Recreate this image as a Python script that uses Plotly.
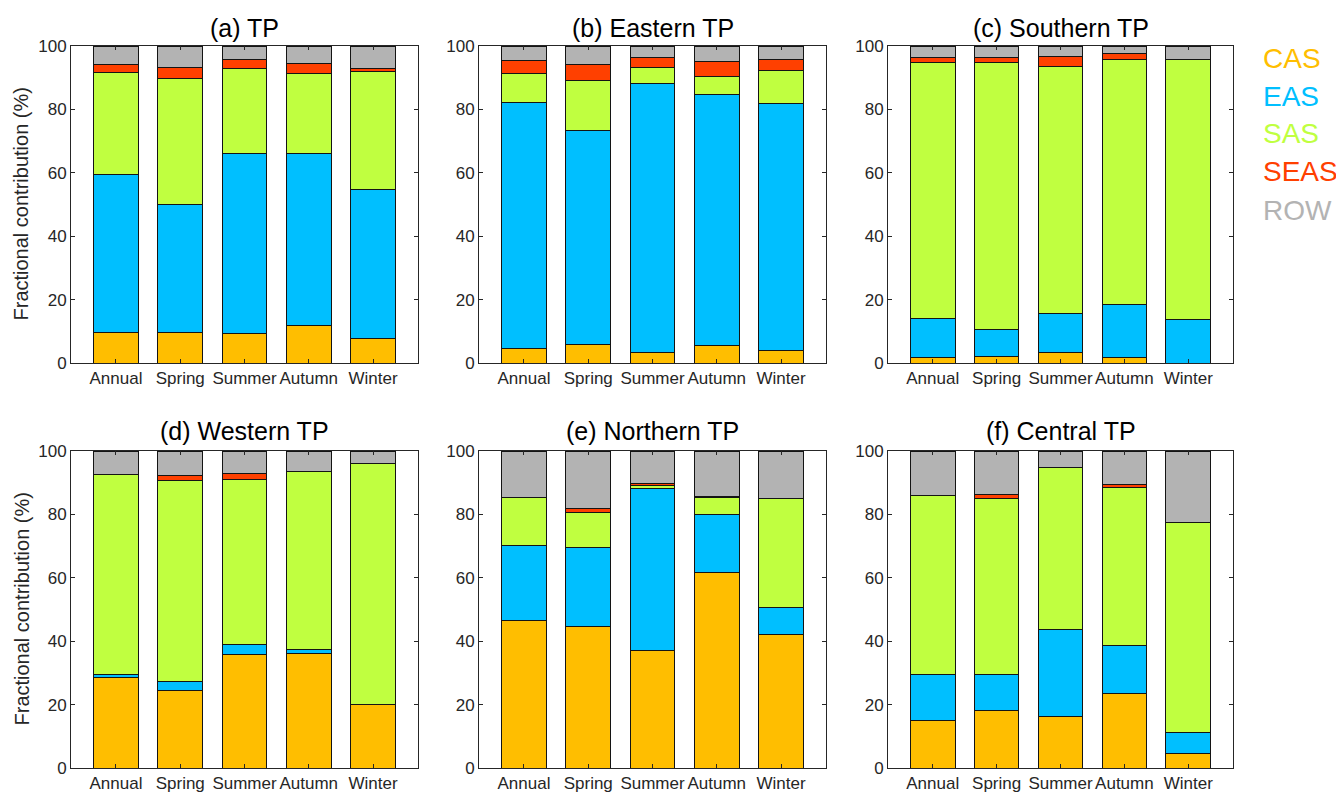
import plotly.graph_objects as go

# ---------------- data ----------------
seasons = ["Annual", "Spring", "Summer", "Autumn", "Winter"]
titles = ["(a) TP", "(b) Eastern TP", "(c) Southern TP",
          "(d) Western TP", "(e) Northern TP", "(f) Central TP"]
sources = ["CAS", "EAS", "SAS", "SEAS", "ROW"]

# rows: TP, Eastern, Southern, Western, Northern, Central ; cols: seasons
CAS = [
    [9.6, 9.6, 9.3, 11.7, 7.7],
    [4.7, 5.9, 3.3, 5.6, 3.9],
    [1.6, 2.1, 3.3, 1.6, 0.0],
    [28.4, 24.6, 35.9, 36.1, 20.0],
    [46.6, 44.5, 37.1, 61.6, 42.2],
    [15.0, 18.2, 16.2, 23.4, 4.6],
]
EAS = [
    [49.9, 40.4, 56.8, 54.4, 47.0],
    [77.5, 67.5, 84.8, 79.1, 78.0],
    [12.4, 8.4, 12.2, 17.0, 13.7],
    [1.0, 2.6, 3.2, 1.2, 0.0],
    [23.6, 25.0, 51.1, 18.3, 8.4],
    [14.4, 11.2, 27.4, 15.1, 6.7],
]
SAS = [
    [32.0, 39.8, 26.8, 25.2, 37.3],
    [9.1, 15.7, 5.2, 5.7, 10.5],
    [80.7, 84.2, 78.1, 77.0, 81.9],
    [63.1, 63.5, 52.0, 56.2, 76.0],
    [15.1, 11.2, 1.0, 5.3, 34.5],
    [56.5, 55.6, 51.2, 49.9, 66.2],
]
SEAS = [
    [2.7, 3.5, 2.7, 3.2, 0.9],
    [4.1, 5.1, 3.1, 4.7, 3.2],
    [1.7, 1.7, 3.1, 2.1, 0.0],
    [0.0, 1.6, 1.7, 0.0, 0.0],
    [0.0, 1.1, 0.4, 0.4, 0.0],
    [0.2, 1.4, 0.0, 0.9, 0.0],
]
ROW = [
    [5.8, 6.7, 4.4, 5.5, 7.1],
    [4.6, 5.8, 3.6, 4.9, 4.4],
    [3.6, 3.6, 3.3, 2.3, 4.4],
    [7.5, 7.7, 7.2, 6.5, 4.0],
    [14.7, 18.2, 10.4, 14.4, 14.9],
    [13.9, 13.6, 5.2, 10.7, 22.5],
]
values = {"CAS": CAS, "EAS": EAS, "SAS": SAS, "SEAS": SEAS, "ROW": ROW}
colors = {"CAS": "rgb(255,190,0)", "EAS": "rgb(0,191,255)", "SAS": "rgb(192,255,64)",
          "SEAS": "rgb(255,64,0)", "ROW": "rgb(179,179,179)"}

# ---------------- layout geometry (screen pixels) ----------------
OFF = 8                      # default page body margin
W, H = 1344 - OFF, 792 - OFF  # figure size so the page fits the window
col_px = [(71, 418), (479, 826), (888, 1233)]
row_px = [(46, 363), (451, 768)]
title_y = [28, 431]


def px(xs):
    return (xs - OFF) / W


def py(ys):
    return (H - (ys - OFF)) / H


fig = go.Figure()
axc = "#262626"
layout = dict(
    template="none",
    width=W, height=H, margin=dict(l=0, r=0, t=0, b=0, pad=0, autoexpand=False),
    paper_bgcolor="white", plot_bgcolor="white",
    barmode="stack", bargap=0.3, showlegend=False,
    font=dict(family="Liberation Sans, Arial, sans-serif", color=axc),
)
annotations = []
for i in range(6):
    r, c = divmod(i, 3)
    n = i + 1
    xa = "x" if n == 1 else f"x{n}"
    ya = "y" if n == 1 else f"y{n}"
    for s in sources:
        fig.add_trace(go.Bar(
            x=seasons, y=values[s][i], name=s, xaxis=xa, yaxis=ya,
            marker=dict(color=colors[s], line=dict(color="rgb(20,20,20)", width=1)),
            width=0.7,
        ))
    x0, x1 = col_px[c]
    y0, y1 = row_px[r]
    common = dict(showline=True, linecolor=axc, linewidth=1, mirror="ticks",
                  ticks="inside", ticklen=4, tickcolor=axc, showgrid=False,
                  zeroline=False, automargin=False,
                  tickfont=dict(size=17, color=axc))
    layout["xaxis" if n == 1 else f"xaxis{n}"] = dict(
        domain=[px(x0), px(x1)], anchor=ya, type="category",
        range=[-0.7, 4.7], **common)
    layout["yaxis" if n == 1 else f"yaxis{n}"] = dict(
        domain=[py(y1), py(y0)], anchor=xa,
        range=[0, 100], dtick=20, **common)
    annotations.append(dict(
        text=titles[i], xref="paper", yref="paper",
        x=px((x0 + x1) / 2), y=py(title_y[r]),
        xanchor="center", yanchor="middle", showarrow=False,
        font=dict(size=25, color="black")))

for r in range(2):
    y0, y1 = row_px[r]
    annotations.append(dict(
        text="Fractional contribution (%)", xref="paper", yref="paper",
        x=px(21), y=py((y0 + y1) / 2), textangle=-90,
        xanchor="center", yanchor="middle", showarrow=False,
        font=dict(size=20, color=axc)))

legend_y = [59, 96, 134, 172, 211]
for s, ly in zip(sources, legend_y):
    annotations.append(dict(
        text=s, xref="paper", yref="paper", x=px(1261), y=py(ly),
        xanchor="left", yanchor="middle", showarrow=False,
        font=dict(size=28, color=colors[s])))

layout["annotations"] = annotations
fig.update_layout(**layout)
fig.write_html("out.html")
